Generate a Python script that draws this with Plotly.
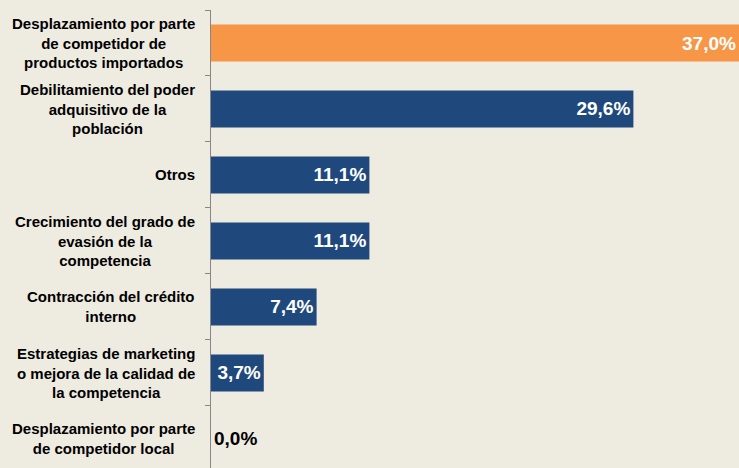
import plotly.graph_objects as go

categories = [
    "Desplazamiento por parte<br>de competidor de<br>productos importados",
    "Debilitamiento del poder<br>adquisitivo de la<br>población",
    "Otros",
    "Crecimiento del grado de<br>evasión de la<br>competencia",
    "Contracción del crédito<br>interno",
    "Estrategias de marketing<br>o mejora de la calidad de<br>la competencia",
    "Desplazamiento por parte<br>de competidor local",
]
values = [37.0, 29.6, 11.1, 11.1, 7.4, 3.7, 0.0]
bar_colors = ["#F79646", "#1F497D", "#1F497D", "#1F497D", "#1F497D", "#1F497D", "#1F497D"]
text_colors = ["white"] * 6 + ["black"]
text_positions = ["inside"] * 6 + ["outside"]

FONT = "Arial, Liberation Sans, sans-serif"

fig = go.Figure(go.Bar(
    x=values,
    y=categories,
    orientation="h",
    marker=dict(color=bar_colors, line=dict(width=0)),
    texttemplate="<b>%{x:.1f}%</b>",
    textposition=text_positions,
    insidetextanchor="end",
    textfont=dict(family=FONT, size=19, color=text_colors),
    outsidetextfont=dict(family=FONT, size=19, color="black"),
    cliponaxis=False,
    hoverinfo="skip",
))

for c in categories:
    fig.add_annotation(
        x=0, xref="paper", y=c, yref="y",
        text="<b>" + c + "</b>",
        showarrow=False, xanchor="right", yanchor="middle",
        align="center", xshift=-14,
        font=dict(family=FONT, size=15, color="black"),
    )

fig.update_layout(
    width=739, height=468,
    margin=dict(l=211, r=0, t=10, b=0),
    paper_bgcolor="#EEEBE0",
    plot_bgcolor="rgba(0,0,0,0)",
    separators=",.",
    bargap=0.44,
    showlegend=False,
    xaxis=dict(range=[0, 37], visible=False, fixedrange=True),
    yaxis=dict(
        type="category",
        categoryorder="array",
        categoryarray=categories,
        range=[6.44, -0.5],
        showticklabels=False,
        tickson="boundaries",
        ticks="outside",
        ticklen=5,
        tickcolor="#868686",
        showline=True,
        linecolor="#868686",
        linewidth=1,
        showgrid=False,
        zeroline=False,
    ),
)

fig.write_html(
    "out.html",
    config={"displayModeBar": False},
    post_script="document.body.style.margin='0';document.body.style.background='#EEEBE0';",
)
